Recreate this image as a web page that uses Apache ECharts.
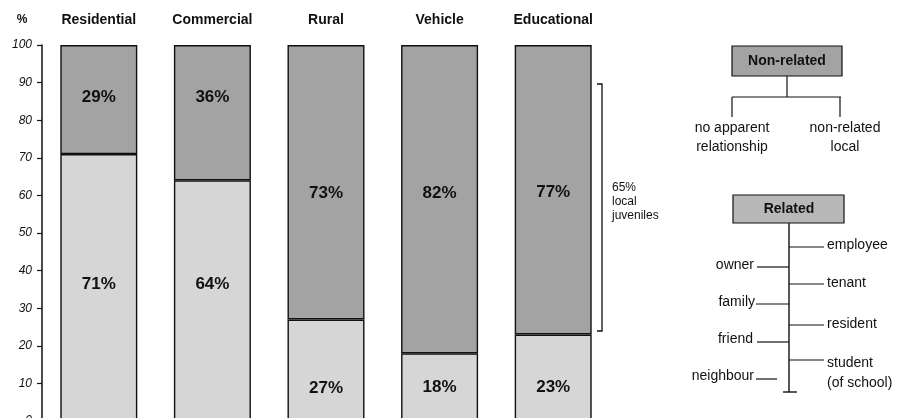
<!DOCTYPE html>
<html>
<head>
<meta charset="UTF-8">
<title></title>
<script src="https://cdn.jsdelivr.net/npm/echarts@6/dist/echarts.min.js"></script>
</head>
<body style="margin:0;background:#fff">
<div id="container" style="width:901px;height:418px;"></div>
<script type="text/javascript">
// data
var categories = ['Residential', 'Commercial', 'Rural', 'Vehicle', 'Educational'];
var related = [71, 64, 27, 18, 23];      // lower, lighter part
var nonRelated = [29, 36, 73, 82, 77];   // upper, darker part
var yTicks = [0, 10, 20, 30, 40, 50, 60, 70, 80, 90, 100];

var font = '"Liberation Sans", Arial, sans-serif';
var ink = '#111';

// small nudges so the labels sit where the print put them
var topNudge = [-2, -15, 11, -6, 3];
var lowNudge = [-3, -16, 18, 0, 10];

function withLabels(values, nudge) {
    return values.map(function (v, i) {
        return { value: v, label: { offset: [0, nudge[i]] } };
    });
}

var chart = echarts.init(document.getElementById('container'));

var txt = function (x, y, s, align, extra) {
    var style = { text: s, x: x, y: y, fill: ink, font: '14px ' + font, textAlign: align || 'left', textVerticalAlign: 'middle' };
    if (extra) { for (var k in extra) style[k] = extra[k]; }
    return { type: 'text', silent: true, style: style };
};
var ln = function (x1, y1, x2, y2, w) {
    return { type: 'line', silent: true, shape: { x1: x1, y1: y1, x2: x2, y2: y2 }, style: { stroke: ink, lineWidth: w || 1.2 } };
};

var option = {
    animation: false,
    backgroundColor: '#fff',
    grid: { left: 42, top: 45, width: 568, bottom: -3, outerBoundsMode: 'none', containLabel: false },
    xAxis: {
        type: 'category',
        position: 'top',
        data: categories,
        axisLine: { show: false },
        axisTick: { show: false },
        axisLabel: { color: ink, fontFamily: font, fontWeight: 'bold', fontSize: 14, margin: 18 }
    },
    yAxis: {
        type: 'value',
        min: 0, max: 100, interval: 10,
        splitLine: { show: false },
        axisLine: { show: true, lineStyle: { color: ink, width: 1.5 } },
        axisTick: { show: true, length: 5, lineStyle: { color: ink, width: 1.2 } },
        axisLabel: {
            color: ink, fontFamily: font, fontStyle: 'italic', fontSize: 12, margin: 10,
            formatter: function (v) { return yTicks.indexOf(v) >= 0 ? String(v) : ''; }
        }
    },
    series: [
        {
            name: 'Related',
            type: 'bar',
            stack: 'all',
            barWidth: 77,
            data: withLabels(related, lowNudge),
            itemStyle: { color: '#d6d6d6', borderColor: ink, borderWidth: 1.4 },
            label: { show: true, position: 'inside', color: ink, fontFamily: font, fontWeight: 'bold', fontSize: 17, formatter: '{c}%' }
        },
        {
            name: 'Non-related',
            type: 'bar',
            stack: 'all',
            barWidth: 77,
            data: withLabels(nonRelated, topNudge),
            itemStyle: { color: '#a3a3a3', borderColor: ink, borderWidth: 1.4 },
            label: { show: true, position: 'inside', color: ink, fontFamily: font, fontWeight: 'bold', fontSize: 17, formatter: '{c}%' }
        }
    ],
    graphic: [
        txt(22, 20, '%', 'center', { font: 'bold 12px ' + font }),
        // bracket for local juveniles
        { type: 'polyline', silent: true, shape: { points: [[597, 84], [602, 84], [602, 331], [597, 331]] }, style: { stroke: ink, lineWidth: 1.3, fill: null } },
        txt(612, 188, '65%', 'left', { font: '12px ' + font }),
        txt(612, 202, 'local', 'left', { font: '12px ' + font }),
        txt(612, 216, 'juveniles', 'left', { font: '12px ' + font }),
        // Non-related tree
        { type: 'rect', silent: true, shape: { x: 732, y: 46, width: 110, height: 30 }, style: { fill: '#a3a3a3', stroke: ink, lineWidth: 1.2 } },
        txt(787, 61, 'Non-related', 'center', { font: 'bold 14px ' + font }),
        ln(787, 76, 787, 97),
        ln(732, 97, 841, 97),
        ln(732, 97, 732, 117),
        ln(840, 97, 840, 117),
        txt(732, 128, 'no apparent', 'center'),
        txt(732, 147, 'relationship', 'center'),
        txt(845, 128, 'non-related', 'center'),
        txt(845, 147, 'local', 'center'),
        // Related tree
        { type: 'rect', silent: true, shape: { x: 733, y: 195, width: 111, height: 28 }, style: { fill: '#b8b8b8', stroke: ink, lineWidth: 1.2 } },
        txt(789, 209, 'Related', 'center', { font: 'bold 14px ' + font }),
        ln(789, 223, 789, 392, 1.4),
        ln(783, 392, 797, 392, 1.4),
        ln(789, 247, 824, 247), txt(827, 245, 'employee'),
        ln(789, 284, 824, 284), txt(827, 283, 'tenant'),
        ln(789, 325, 824, 325), txt(827, 324, 'resident'),
        ln(789, 360, 824, 360), txt(827, 363, 'student'), txt(827, 383, '(of school)'),
        ln(757, 267, 789, 267), txt(754, 265, 'owner', 'right'),
        ln(756, 304, 789, 304), txt(755, 302, 'family', 'right'),
        ln(757, 342, 789, 342), txt(753, 339, 'friend', 'right'),
        ln(756, 379, 777, 379), txt(754, 376, 'neighbour', 'right')
    ]
};

chart.setOption(option);
</script>
</body>
</html>
